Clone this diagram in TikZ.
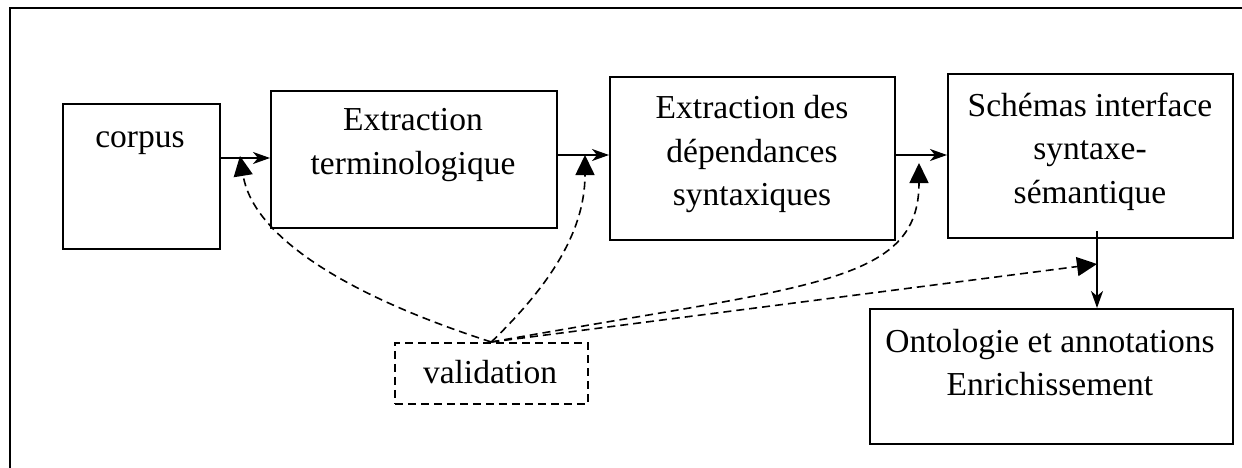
\documentclass[tikz,border=0pt]{standalone}
\usepackage{fontspec}
\setmainfont{Liberation Serif}
\usetikzlibrary{arrows.meta}
\begin{document}
\begin{tikzpicture}[x=1pt,y=-1pt,
 box/.style={draw, line width=1.8pt, inner sep=0pt, anchor=north west},
 txt/.style={font=\fontsize{33.5}{43}\selectfont, inner sep=0pt, anchor=base},
 flow/.style={line width=1.6pt, -{Stealth[length=17pt,width=12pt,inset=5pt]}},
 validarrow/.style={line width=1.6pt, dash pattern=on 8pt off 5pt, -{Triangle[length=20pt,width=19pt]}},
]
\useasboundingbox (0,0) rectangle (1242,468);
% frame
\draw[line width=2.6pt] (10,468) -- (10,8) -- (1242,8);

% boxes
\node[box, minimum width=157pt, minimum height=145pt] (corpus) at (62,103) {};
\node[box, minimum width=286pt, minimum height=137pt] (term) at (270,90) {};
\node[box, minimum width=285pt, minimum height=163pt] (dep) at (609,76) {};
\node[box, minimum width=285pt, minimum height=164pt] (schema) at (947,73) {};
\node[box, minimum width=363pt, minimum height=135pt] (onto) at (869,308) {};
\node[box, line width=1.6pt, dash pattern=on 8pt off 5pt, minimum width=193pt, minimum height=61pt] (valid) at (394,342) {};

% texts
\node[txt] (corpusT) at (140,147) {corpus};
\node[txt] (termA) at (413,131) {Extraction};
\node[txt] (termB) at (413,174) {terminologique};
\node[txt] (depA) at (752,119) {Extraction des};
\node[txt] (depB) at (752,162) {dépendances};
\node[txt] (depC) at (752,205) {syntaxiques};
\node[txt] (schA) at (1090,117) {Schémas interface};
\node[txt] (schB) at (1090,160) {syntaxe-};
\node[txt] (schC) at (1090,203) {sémantique};
\node[txt] (ontoA) at (1050,352) {Ontologie et annotations};
\node[txt] (ontoB) at (1050,395) {Enrichissement};
\node[txt] (validT) at (490,383) {validation};

% flow arrows
\draw[flow] (corpus.east |- 0,158) -- (term.west |- 0,158);
\draw[flow] (term.east |- 0,155) -- (dep.west |- 0,155);
\draw[flow] (dep.east |- 0,155) -- (schema.west |- 0,155);
\coordinate (down) at (1097,231);
\draw[flow] (down) -- (onto.north -| down);

% validation arrows
\coordinate (v1) at (240,156);
\coordinate (v2) at (585,155);
\coordinate (v3) at (919,163);
\coordinate (v4) at (1097,264);
\draw[validarrow] (valid.north) .. controls (330,290) and (252,230) .. (v1);
\draw[validarrow] (valid.north) .. controls (545,290) and (585,235) .. (v2);
\draw[validarrow] (valid.north) .. controls (810,285) and (919,285) .. (v3);
\draw[validarrow] (valid.north) -- (v4);
\end{tikzpicture}
\end{document}
